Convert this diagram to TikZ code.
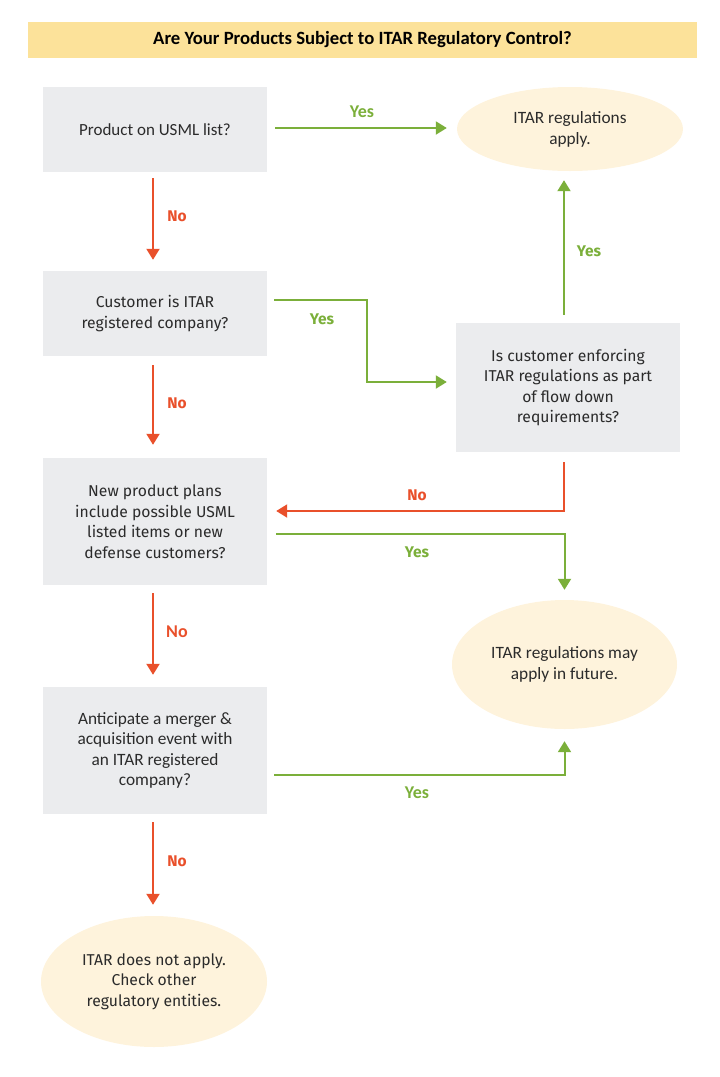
\documentclass[tikz,border=0pt]{standalone}
\usepackage{fontspec}
\setmainfont{Fira Sans}
\newfontfamily\calfont{Carlito}
\usetikzlibrary{shapes.geometric,arrows.meta,calc}
\definecolor{boxgray}{HTML}{EBECEE}
\definecolor{ovalfill}{HTML}{FEF3DC}
\definecolor{titlefill}{HTML}{FCE29A}
\definecolor{yesgreen}{HTML}{7BAF3A}
\definecolor{nored}{HTML}{E9502B}
\definecolor{txt}{HTML}{2B2B2B}
\tikzset{
  qbox/.style={rectangle, fill=boxgray, minimum width=224pt, align=center, inner sep=0pt, text=txt, font=\fontsize{15.7}{20.5}\selectfont},
  oval/.style={ellipse, fill=ovalfill, inner sep=0pt, align=center, text=txt, font=\fontsize{15.7}{20.5}\selectfont},
  conn/.style={line width=2pt, -{Triangle[length=11pt,width=13pt]}},
  yes/.style={conn, draw=yesgreen},
  no/.style={conn, draw=nored},
  yeslbl/.style={text=yesgreen, font=\bfseries\fontsize{15.5}{18}\selectfont},
  nolbl/.style={text=nored, font=\bfseries\fontsize{15.5}{18}\selectfont}
}
\begin{document}
\begin{tikzpicture}[x=1pt,y=-1pt]
\useasboundingbox (0,0) rectangle (720,1077);
\node[rectangle, fill=titlefill, minimum width=669pt, minimum height=36pt, inner sep=0pt, text=black, font=\calfont\bfseries\fontsize{18.7}{20}\selectfont] (title) at (362.5,40) {Are Your Products Subject to ITAR Regulatory Control?};
\node[qbox, minimum height=85pt, font=\calfont\fontsize{17}{21}\selectfont] (b1) at (155,129.5) {Product on USML list?};
\node[oval, minimum width=226pt, minimum height=84pt, font=\calfont\fontsize{17.3}{21}\selectfont] (e1) at (570,129) {ITAR regulations\\apply.};
\node[qbox, minimum height=85pt] (b2) at (155,313.5) {Customer is ITAR\\registered company?};
\node[qbox, minimum height=129pt] (b3) at (568,387.5) {Is customer enforcing\\ITAR regulations as part\\of flow down\\requirements?};
\node[qbox, minimum height=127pt] (b4) at (155,521.5) {New product plans\\include possible USML\\listed items or new\\defense customers?};
\node[oval, minimum width=225pt, minimum height=129pt, font=\calfont\fontsize{17.3}{21}\selectfont] (e2) at (564.5,664.5) {ITAR regulations may\\apply in future.};
\node[qbox, minimum height=127pt, font=\calfont\fontsize{17.3}{20.5}\selectfont] (b5) at (155,750.5) {Anticipate a merger \&\\acquisition event with\\an ITAR registered\\company?};
\node[oval, minimum width=226pt, minimum height=131pt] (e3) at (154,981.5) {ITAR does not apply.\\Check other\\regulatory entities.};

% connectors
\draw[yes] ([shift={(8,-1.5)}]b1.east) -- ([shift={(-10,-1)}]e1.west);
\node[yeslbl, font=\calfont\bfseries\fontsize{18}{20}\selectfont] (l1) at (362,112) {Yes};
\draw[no] ([shift={(-2,6)}]b1.south) -- ([shift={(-2,-11)}]b2.north);
\node[nolbl] (l2) at (177,216) {No};
\draw[yes] ([shift={(7,-13.5)}]b2.east) -- ++(93,0) |- ([shift={(-9,-5.5)}]b3.west);
\node[yeslbl] (l3) at (322,319) {Yes};
\draw[yes] ([shift={(-4,-8)}]b3.north) -- ([shift={(-6,9)}]e1.south);
\node[yeslbl] (l4) at (589,251) {Yes};
\draw[no] ([shift={(-2,9)}]b2.south) -- ([shift={(-2,-13)}]b4.north);
\node[nolbl] (l5) at (177,403) {No};
\draw[no] ([shift={(-4,10)}]b3.south) |- ([shift={(9,-10.5)}]b4.east);
\node[nolbl] (l6) at (417,495) {No};
\draw[yes] ([shift={(9,12.5)}]b4.east) -| ([shift={(0,-10)}]e2.north);
\node[yeslbl] (l7) at (417,552) {Yes};
\draw[no] ([shift={(-2,8)}]b4.south) -- ([shift={(-2,-12)}]b5.north);
\node[nolbl, font=\calfont\bfseries\fontsize{18}{20}\selectfont] (l8) at (177,632) {No};
\draw[yes] ([shift={(7,24.5)}]b5.east) -| ([shift={(0,12)}]e2.south);
\node[yeslbl, font=\calfont\bfseries\fontsize{18}{20}\selectfont] (l9) at (417,793) {Yes};
\draw[no] ([shift={(-2,8)}]b5.south) -- ([shift={(-1,-11)}]e3.north);
\node[nolbl] (l10) at (177,861) {No};
\end{tikzpicture}
\end{document}
